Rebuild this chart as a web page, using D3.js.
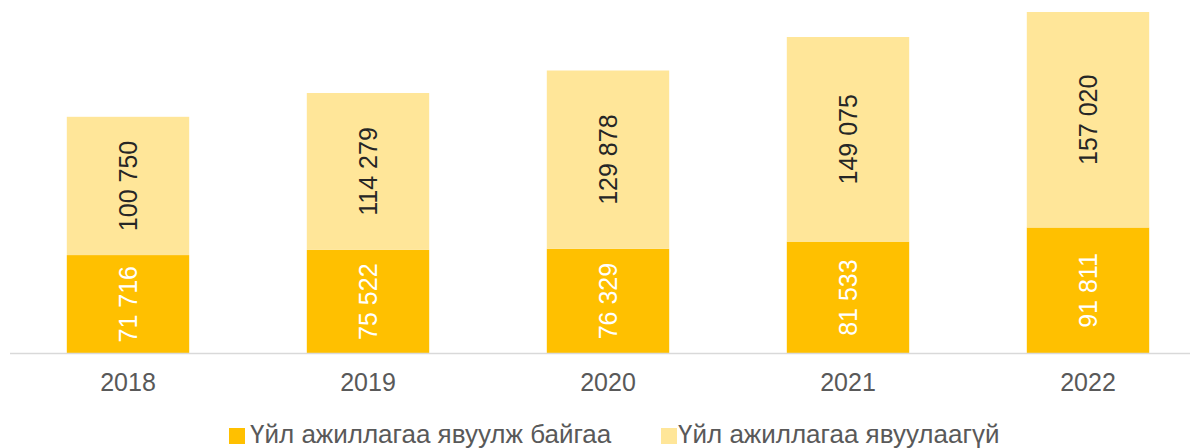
<!DOCTYPE html>
<html>
<head>
<meta charset="utf-8">
<script src="https://cdn.jsdelivr.net/npm/d3@7"></script>
<style>
  body { margin: 0; background: #fff; }
  svg { font-family: "Liberation Sans", Arial, sans-serif; }
</style>
</head>
<body>
<svg id="chart" width="1194" height="448"></svg>
<script>
// 数据
const years = ["2018", "2019", "2020", "2021", "2022"];
const active = [71716, 75522, 76329, 81533, 91811];
const inactive = [100750, 114279, 129878, 149075, 157020];
const seriesNames = ["Үйл ажиллагаа явуулж байгаа", "Үйл ажиллагаа явуулаагүй"];

const colors = ["#FFC000", "#FFE699"];
const labelColors = ["#ffffff", "#262626"];

const svg = d3.select("#chart");
const axisY = 353.5;

const x = d3.scaleBand()
    .domain(years)
    .range([8, 1208])
    .paddingInner(0.49)
    .paddingOuter(0.245);

const y = d3.scaleLinear()
    .domain([0, 250000])
    .range([axisY, 10.4]);

// 堆叠
const rows = years.map((yr, i) => ({ year: yr, a: active[i], b: inactive[i] }));
const stack = d3.stack().keys(["a", "b"])(rows);

const fmt = v => d3.format(",")(v).replace(/,/g, " ");

stack.forEach((layer, li) => {
    const g = svg.append("g");
    g.selectAll("rect")
        .data(layer)
        .enter()
        .append("rect")
        .attr("x", d => x(d.data.year))
        .attr("width", x.bandwidth())
        .attr("y", d => y(d[1]))
        .attr("height", d => y(d[0]) - y(d[1]))
        .attr("fill", colors[li]);

    g.selectAll("text")
        .data(layer)
        .enter()
        .append("text")
        .attr("transform", d => {
            const cx = x(d.data.year) + x.bandwidth() / 2;
            const cy = (y(d[0]) + y(d[1])) / 2;
            return `translate(${cx},${cy}) rotate(-90)`;
        })
        .attr("text-anchor", "middle")
        .attr("dominant-baseline", "central")
        .attr("font-size", 25)
        .attr("fill", labelColors[li])
        .text(d => fmt(d[1] - d[0]));
});

// 坐标轴
svg.append("line")
    .attr("x1", 10).attr("x2", 1190)
    .attr("y1", axisY).attr("y2", axisY)
    .attr("stroke", "#d9d9d9")
    .attr("stroke-width", 1.5);

svg.append("g")
    .attr("transform", `translate(0,${axisY})`)
    .call(d3.axisBottom(x).tickSize(0).tickPadding(20))
    .call(g => g.select(".domain").remove())
    .selectAll("text")
    .attr("font-size", 25)
    .attr("fill", "#595959")
    .attr("font-family", "Liberation Sans, Arial, sans-serif");

// 图例
const legendSquares = [229, 661];
const legendTexts = [250, 678];
seriesNames.forEach((name, i) => {
    const lg = svg.append("g");
    lg.append("rect")
        .attr("x", legendSquares[i])
        .attr("y", 428)
        .attr("width", 16).attr("height", 16)
        .attr("fill", colors[i]);
    lg.append("text")
        .attr("x", legendTexts[i])
        .attr("y", 443)
        .attr("font-size", 26)
        .attr("fill", "#595959")
        .text(name);
});
</script>
</body>
</html>
